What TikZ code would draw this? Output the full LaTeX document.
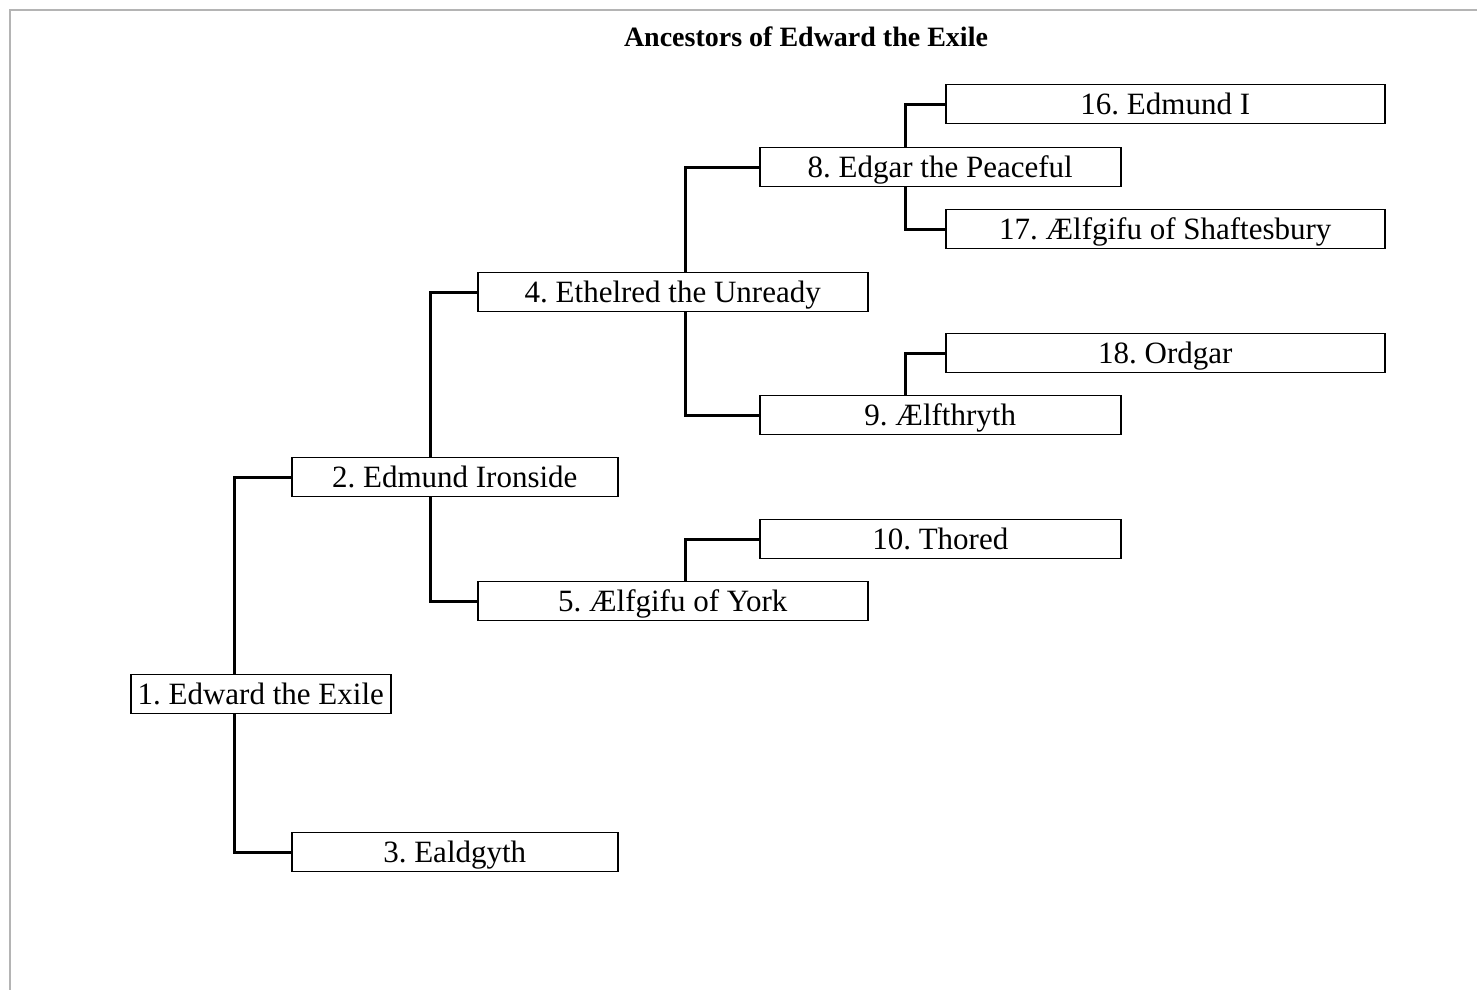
\documentclass[tikz,border=0pt]{standalone}
\usepackage{fontspec}
\setmainfont{Liberation Serif}
\usepackage{xcolor}
\usepackage{tikz}
\usetikzlibrary{positioning}

\definecolor{framegray}{HTML}{B4B4B4}

\begin{document}
\frenchspacing
\begin{tikzpicture}[
  x=1pt, y=-1pt,
  box/.style={rectangle, draw, line width=1.5pt, inner sep=0pt, minimum height=39pt, text height=28pt, text depth=7pt, anchor=west, font=\fontsize{31}{36}\selectfont},
  gen0/.style={box, minimum width=260pt},
  gen1/.style={box, minimum width=326pt},
  gen2/.style={box, minimum width=390pt},
  gen3/.style={box, minimum width=361pt},
  gen4/.style={box, minimum width=439pt},
  heading/.style={font=\fontsize{28}{32}\selectfont\bfseries},
  link/.style={line width=3pt}
]
\useasboundingbox (0,0) rectangle (1477,990);
\draw[framegray, line width=2pt] (10,990) -- (10,10) -- (1477,10);

\node[heading] (title) at (806,37) {Ancestors of Edward the Exile};

\node[gen0] (edward) at (130,694) {1. Edward the Exile};

\node[gen1] (edmundiron) at (291,477) {2. Edmund Ironside};
\node[gen1] (ealdgyth) at (291,852) {3. Ealdgyth};

\node[gen2] (ethelred) at (477,292) {4. Ethelred the Unready};
\node[gen2] (aelfgifuyork) at (477,601) {5. Ælfgifu of York};

\node[gen3] (edgar) at (759,167) {8. Edgar the Peaceful};
\node[gen3] (aelfthryth) at (759,415) {9. Ælfthryth};
\node[gen3] (thored) at (759,539) {10. Thored};

\node[gen4] (edmundi) at (945,104) {16. Edmund I};
\node[gen4] (aelfgifushaft) at (945,229) {17. Ælfgifu of Shaftesbury};
\node[gen4] (ordgar) at (945,353) {18. Ordgar};

% spines
\coordinate (sp1) at (234,0);
\coordinate (sp2) at (430,0);
\coordinate (sp4) at (685,0);
\coordinate (sp5) at (685,0);
\coordinate (sp8) at (905,0);
\coordinate (sp9) at (905,0);

\draw[link] (edward.north -| sp1) |- (edmundiron.west);
\draw[link] (edward.south -| sp1) |- (ealdgyth.west);
\draw[link] (edmundiron.north -| sp2) |- (ethelred.west);
\draw[link] (edmundiron.south -| sp2) |- (aelfgifuyork.west);
\draw[link] (ethelred.north -| sp4) |- (edgar.west);
\draw[link] (ethelred.south -| sp4) |- (aelfthryth.west);
\draw[link] (aelfgifuyork.north -| sp5) |- (thored.west);
\draw[link] (edgar.north -| sp8) |- (edmundi.west);
\draw[link] (edgar.south -| sp8) |- (aelfgifushaft.west);
\draw[link] (aelfthryth.north -| sp9) |- (ordgar.west);

\end{tikzpicture}
\end{document}
